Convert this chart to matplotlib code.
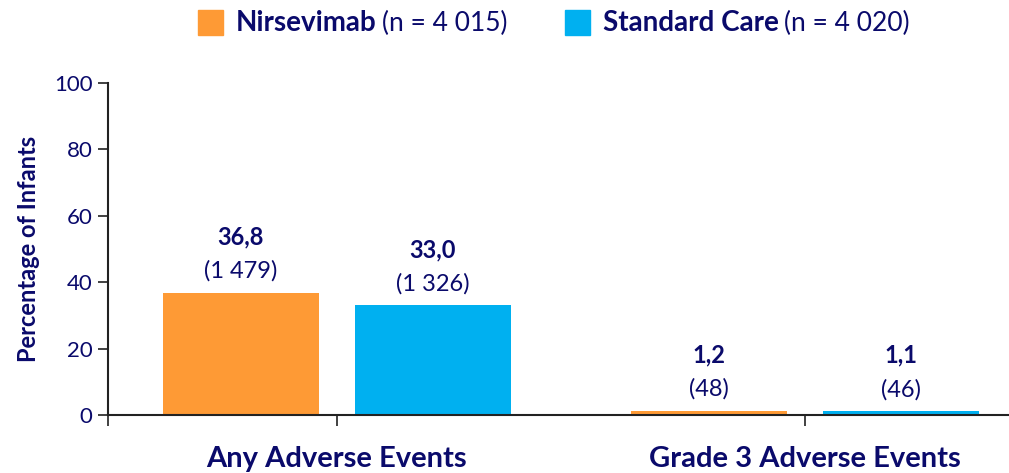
import numpy as np
import matplotlib.pyplot as plt
from matplotlib.patches import Rectangle

plt.rcParams['font.family'] = ['Lato', 'DejaVu Sans']

categories = ["Any Adverse Events", "Grade 3 Adverse Events"]
series_names = ["Nirsevimab", "Standard Care"]
series_n = ["4 015", "4 020"]
nirsevimab_pct = [36.8, 1.2]
nirsevimab_cnt = [1479, 48]
standard_pct = [33.0, 1.1]
standard_cnt = [1326, 46]

NAVY = "#0a0a6b"
colors = ["#fe9a35", "#00b0f0"]


def fmt_pct(v):
    return f"{v:.1f}".replace(".", ",")


def fmt_cnt(v):
    return f"({v:,})".replace(",", " ")


fig = plt.figure(figsize=(10.09, 4.73), dpi=100)
ax = fig.add_axes([108 / 1009, 1 - 415 / 473, 1 - 108 / 1009, (415 - 83) / 473])

x = np.arange(len(categories))
width = 0.332
offset = 0.205
series = [(nirsevimab_pct, nirsevimab_cnt), (standard_pct, standard_cnt)]
for i, (pct, cnt) in enumerate(series):
    xs = x + (i * 2 - 1) * offset
    ax.bar(xs, pct, width=width, color=colors[i], zorder=2)
    for xi, p, c in zip(xs, pct, cnt):
        ax.annotate(fmt_cnt(c), (xi, p), xytext=(0, 8), textcoords="offset points",
                    ha="center", va="bottom", fontsize=17, color=NAVY)
        ax.annotate(fmt_pct(p), (xi, p), xytext=(0, 32), textcoords="offset points",
                    ha="center", va="bottom", fontsize=17, fontweight="bold", color=NAVY)

ax.set_xlim(-0.489, 1.436)
ax.set_ylim(0, 100)
ax.set_yticks(np.arange(0, 101, 20))
ax.tick_params(axis="y", direction="out", length=7, width=1.3, colors="#333333",
               labelcolor=NAVY, labelsize=16, pad=4)
ax.set_xticks([-0.489, 0, 1])
ax.set_xticklabels([])
ax.tick_params(axis="x", direction="out", length=8, width=1.3, colors="#333333")
for xi, name in zip(x, categories):
    ax.text(xi, -0.158, name, transform=ax.get_xaxis_transform(), ha="center", va="baseline",
            fontsize=21, fontweight="bold", color=NAVY)

ax.set_ylabel("Percentage of Infants", fontsize=17, fontweight="bold", color=NAVY, labelpad=10)
for side in ("top", "right"):
    ax.spines[side].set_visible(False)
for side in ("left", "bottom"):
    ax.spines[side].set_linewidth(1.5)
    ax.spines[side].set_color("#222222")

# legend drawn by hand so the name can be bold and the n regular
fig.canvas.draw()
renderer = fig.canvas.get_renderer()
legend_x = [198 / 1009, 565 / 1009]
for lx, name, n, col in zip(legend_x, series_names, series_n, colors):
    fig.patches.append(Rectangle((lx, 1 - 35 / 473), 25 / 1009, 25 / 473,
                                 transform=fig.transFigure, color=col))
    t = fig.text(lx + 38 / 1009, 1 - 23 / 473, name, fontsize=20, fontweight="bold",
                 color=NAVY, va="center", ha="left")
    bb = t.get_window_extent(renderer)
    fig.text(bb.x1 / fig.bbox.width + 5 / 1009, 1 - 23 / 473, f"(n = {n})", fontsize=19,
             color=NAVY, va="center", ha="left")

fig.savefig("out.png", dpi=100)
